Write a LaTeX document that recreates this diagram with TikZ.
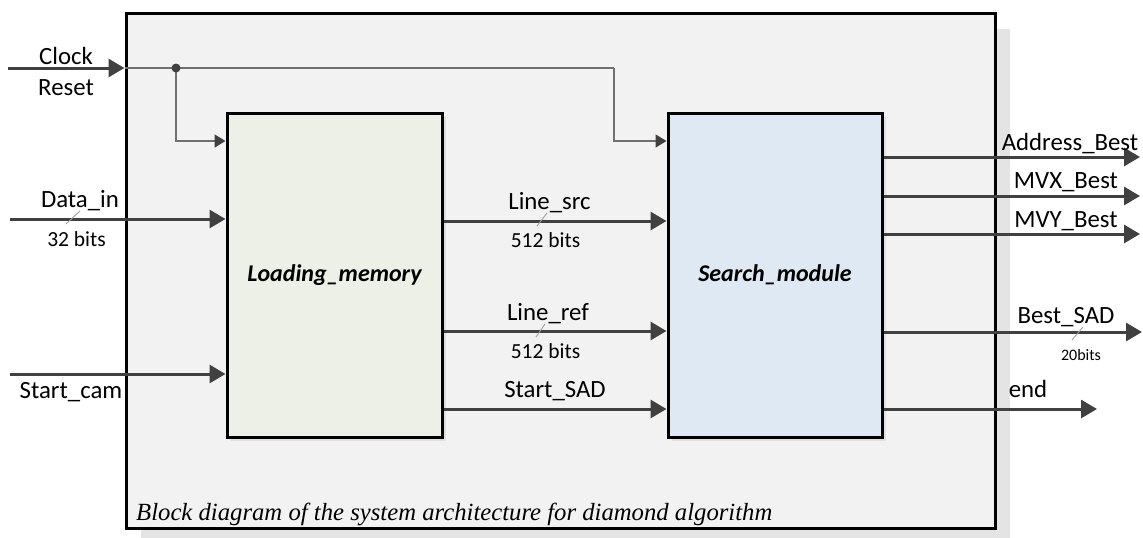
\documentclass[tikz,border=0pt]{standalone}
\usepackage{fontspec}
\setmainfont{Carlito}
\newfontfamily\capfont{Liberation Serif}
\usetikzlibrary{arrows.meta,calc}

\definecolor{wire}{HTML}{404040}
\definecolor{thinwire}{HTML}{707070}
\definecolor{panel}{HTML}{F2F2F2}
\definecolor{panelshadow}{HTML}{E4E4E4}
\definecolor{loadfill}{HTML}{EDF0E6}
\definecolor{searchfill}{HTML}{DFE9F3}
\definecolor{slashgray}{HTML}{A0A0A0}

\begin{document}
\begin{tikzpicture}[x=1pt,y=-1pt,
  bus/.style={draw=wire, line width=3pt, -{Triangle[length=16pt,width=18pt]}},
  ctrl/.style={draw=thinwire, line width=1.3pt, -{Triangle[length=11pt,width=13pt,color=wire]}},
  block/.style={draw=black, line width=3pt, minimum width=215pt, minimum height=324pt,
    inner sep=0pt, font=\fontsize{24}{28}\selectfont\bfseries\itshape},
  lbl/.style={anchor=base, inner sep=0pt, font=\fontsize{24.8}{28}\selectfont},
  width/.style={anchor=base, inner sep=0pt, font=\fontsize{21.5}{24}\selectfont},
  widthsmall/.style={anchor=base, inner sep=0pt, font=\fontsize{16}{18}\selectfont},
  slash/.style={draw=slashgray, line width=0.9pt},
  blockshadow/.style={fill=black!12}
]
\useasboundingbox (0,0) rectangle (1143,538);

% system panel with its drop shadow
\fill[panelshadow] (141,29) rectangle (1010,545);
\node[draw=black, fill=panel, line width=3pt, minimum width=869pt, minimum height=515pt,
  inner sep=0pt] (sys) at (560.5,270.5) {};

% faint shadows under the two blocks
\fill[blockshadow] (231,117) rectangle (446,441);
\fill[blockshadow] (672,117) rectangle (886,441);

% functional blocks
\node[block, fill=loadfill] (LM) at (334.5,275) {Loading\_memory};
\node[block, fill=searchfill, minimum width=214pt] (SM) at (775,275) {Search\_module};

% row heights of the signals
\coordinate (clk) at (0,68);
\coordinate (ctl) at (0,141);
\coordinate (din) at (0,219);
\coordinate (scam) at (0,374);
\coordinate (src) at (0,221);
\coordinate (ref) at (0,331);
\coordinate (ssad) at (0,409);

% free ends of the external wires
\coordinate (clkin) at (8,68);
\coordinate (dinin) at (10,219);
\coordinate (scamin) at (10,374);
\coordinate (clkdot) at (176,68);
\coordinate (clkturn) at (614,68);
\coordinate (addrout) at (1140,157);
\coordinate (mvxout) at (1140,196);
\coordinate (mvyout) at (1140,234);
\coordinate (sadout) at (1142,332);
\coordinate (endout) at (1097,409);

% clock / reset distribution
\draw[bus] (clkin) -- (sys.west |- clk);
\draw[draw=thinwire, line width=1.3pt] (sys.west |- clk) -- (clkturn);
\draw[ctrl] (clkdot) |- (LM.west |- ctl);
\draw[ctrl] (clkturn) |- (SM.west |- ctl);
\fill[wire] (clkdot) circle (4.5pt);
\node[lbl] (clocklbl) at (66,64) {Clock};
\node[lbl] (resetlbl) at (66,95) {Reset};

% inputs of the loading memory
\draw[bus] (dinin) -- (LM.west |- din);
\node[lbl] (dinlbl) at (80,207) {Data\_in};
\draw[slash] (66,224) -- (80,211);
\node[width] (dinw) at (76.5,246) {32 bits};

\draw[bus] (scamin) -- (LM.west |- scam);
\node[lbl] (scamlbl) at (71,398) {Start\_cam};

% links between the blocks
\draw[bus] (LM.east |- src) -- (SM.west |- src);
\node[lbl] (srclbl) at (549.5,209) {Line\_src};
\draw[slash] (537,226) -- (547,213);
\node[width] (srcw) at (545.5,247) {512 bits};

\draw[bus] (LM.east |- ref) -- (SM.west |- ref);
\node[lbl] (reflbl) at (548,320) {Line\_ref};
\draw[slash] (536,337) -- (545,324);
\node[width] (refw) at (545.5,358) {512 bits};

\draw[bus] (LM.east |- ssad) -- (SM.west |- ssad);
\node[lbl] (ssadlbl) at (555,397) {Start\_SAD};

% outputs of the search module
\draw[bus] (SM.east |- addrout) -- (addrout);
\node[lbl] (addrlbl) at (1070,150) {Address\_Best};
\draw[bus] (SM.east |- mvxout) -- (mvxout);
\node[lbl] (mvxlbl) at (1066,188) {MVX\_Best};
\draw[bus] (SM.east |- mvyout) -- (mvyout);
\node[lbl] (mvylbl) at (1066,227) {MVY\_Best};
\draw[bus] (SM.east |- sadout) -- (sadout);
\node[lbl] (sadlbl) at (1066,323) {Best\_SAD};
\draw[slash] (1072,340) -- (1083,327);
\node[widthsmall] (sadw) at (1081,360) {20bits};
\draw[bus] (SM.east |- endout) -- (endout);
\node[lbl] (endlbl) at (1028,397) {end};

% caption inside the panel
\node[anchor=base west, inner sep=0pt, font=\capfont\itshape\fontsize{24.7}{28}\selectfont]
  (caption) at (136,520) {Block diagram of the system architecture for diamond algorithm};
\end{tikzpicture}
\end{document}
